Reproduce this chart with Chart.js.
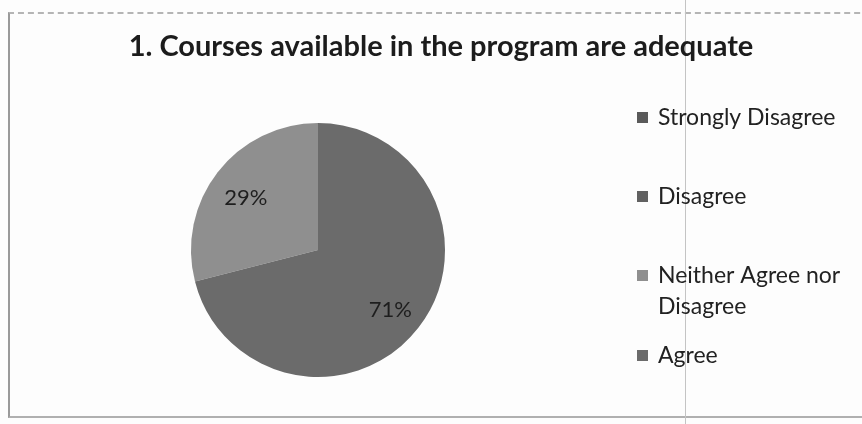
<!DOCTYPE html>
<html>
<head>
<meta charset="utf-8">
<script src="https://cdn.jsdelivr.net/npm/chart.js@4.4.1/dist/chart.umd.min.js"></script>
<style>
  html, body { margin: 0; padding: 0; background: #fff; }
  #wrap { position: relative; width: 862px; height: 424px; overflow: hidden; background: #fdfdfd; }
  #frame { position: absolute; left: 8px; top: 12px; width: 880px; height: 402px;
           border-left: 2px solid #9a9a9a; border-top: 2px dashed #b5b5b5; border-bottom: 2px solid #b0b0b0; }
  #scanline { position: absolute; left: 685px; top: 0; width: 1px; height: 424px; background: #c4c4c4; }
  canvas { position: absolute; left: 0; top: 0; }
</style>
</head>
<body>
<div id="wrap">
  <div id="frame"></div>
  <div id="scanline"></div>
  <canvas id="pieChart" width="862" height="424"></canvas>
</div>
<script>
const chartTitle = '1. Courses available in the program are adequate';
const categories = ['Strongly Disagree', 'Disagree', ['Neither Agree nor', 'Disagree'], 'Agree'];
const values = [0, 0, 29, 71];
const sliceColors = ['#5a5a5a', '#616161', '#8f8f8f', '#6b6b6b'];

const total = values.reduce((a, b) => a + b, 0);

// title over the whole frame + legend a la Excel on the right
const legendRows = [118, 197, 276, 356];
const frameText = {
    id: 'frameText',
    afterDraw(chart) {
        const ctx = chart.ctx;
        ctx.save();
        ctx.textBaseline = 'middle';
        ctx.fillStyle = '#1c1c1c';
        ctx.textAlign = 'center';
        ctx.font = 'bold 29px Lato';
        ctx.fillText(chartTitle, 441, 47);

        ctx.textAlign = 'left';
        ctx.font = '23px Lato';
        categories.forEach((label, i) => {
            const lines = Array.isArray(label) ? label : [label];
            const y = legendRows[i];
            ctx.fillStyle = sliceColors[i];
            ctx.fillRect(637, y - 6, 11, 11);
            ctx.fillStyle = '#222';
            lines.forEach((line, j) => ctx.fillText(line, 658, y + j * 31));
        });
        ctx.restore();
    }
};

// percent labels inside the slices
const pctLabels = {
    id: 'pctLabels',
    afterDatasetsDraw(chart) {
        const ctx = chart.ctx;
        const meta = chart.getDatasetMeta(0);
        ctx.save();
        ctx.font = '22px Lato';
        ctx.fillStyle = '#1e1e1e';
        ctx.textAlign = 'center';
        ctx.textBaseline = 'middle';
        meta.data.forEach((arc, i) => {
            if (!values[i]) return;
            const mid = (arc.startAngle + arc.endAngle) / 2;
            const r = arc.outerRadius * 0.72;
            ctx.fillText(Math.round(values[i] / total * 100) + '%', arc.x + Math.cos(mid) * r, arc.y + Math.sin(mid) * r + 4);
        });
        ctx.restore();
    }
};

new Chart(document.getElementById('pieChart'), {
    type: 'pie',
    data: {
        labels: categories,
        datasets: [{
            data: values,
            backgroundColor: sliceColors,
            borderWidth: 0
        }]
    },
    options: {
        responsive: false,
        animation: false,
        rotation: -360 * values[2] / total,
        layout: { padding: { left: 128, right: 354, top: 123, bottom: 47 } },
        plugins: {
            legend: { display: false },
            tooltip: { enabled: false },
            title: { display: false }
        }
    },
    plugins: [pctLabels, frameText]
});
</script>
</body>
</html>
